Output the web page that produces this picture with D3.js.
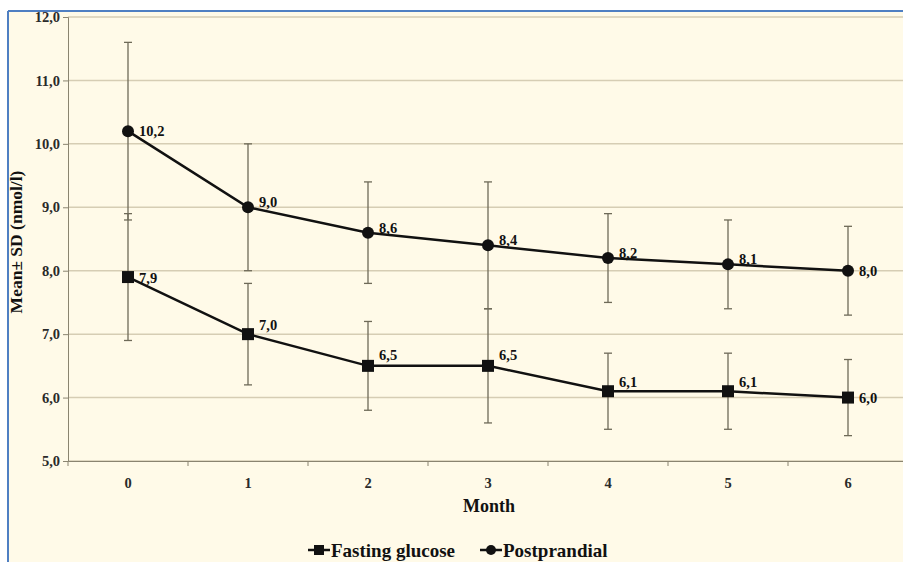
<!DOCTYPE html>
<html><head><meta charset="utf-8">
<script src="https://cdn.jsdelivr.net/npm/d3@7"></script>
<style>body{margin:0;background:#fff}svg{display:block}text{font-family:"Liberation Serif","Times New Roman",serif;font-weight:bold;fill:#111}</style>
</head><body><svg id="c" width="903" height="562"></svg>
<script>
const months = ["0","1","2","3","4","5","6"];
const fasting = [7.9, 7.0, 6.5, 6.5, 6.1, 6.1, 6.0];
const fastingSD = [1.0, 0.8, 0.7, 0.9, 0.6, 0.6, 0.6];
const postprandial = [10.2, 9.0, 8.6, 8.4, 8.2, 8.1, 8.0];
const postprandialSD = [1.4, 1.0, 0.8, 1.0, 0.7, 0.7, 0.7];
const yTicks = [5, 6, 7, 8, 9, 10, 11, 12];
const seriesNames = ["Fasting glucose", "Postprandial"];

const svg = d3.select("#c");
const fmt = v => d3.format(".1f")(v).replace(".", ",");
// frame
svg.append("rect").attr("x",8).attr("y",11).attr("width",900).attr("height",560).attr("fill","#fffae8");
svg.append("line").attr("x1",8).attr("x2",903).attr("y1",11).attr("y2",11).attr("stroke","#4f7fc2").attr("stroke-width",2);
svg.append("line").attr("x1",8).attr("x2",8).attr("y1",11).attr("y2",562).attr("stroke","#4f7fc2").attr("stroke-width",2);

const x = d3.scaleBand().domain(months).range([68, 908]);
const y = d3.scaleLinear().domain([5, 12]).range([461, 17]);
const cx = m => x(m) + x.bandwidth()/2;

// gridlines
svg.append("g").selectAll("line").data(yTicks).join("line")
  .attr("x1",68).attr("x2",903).attr("y1",d=>y(d)).attr("y2",d=>y(d))
  .attr("stroke","#d6cdb4").attr("stroke-width",1.5);

// axes
const yAxis = svg.append("g").attr("transform","translate(68,0)")
  .call(d3.axisLeft(y).tickValues(yTicks).tickFormat(fmt).tickSize(5).tickPadding(3));
yAxis.select(".domain").attr("stroke","#8a8470");
yAxis.selectAll(".tick line").attr("stroke","#8a8470");
yAxis.selectAll("text").attr("font-size",14.5).style("fill","#2a2a2a");

const xAxis = svg.append("g").attr("transform","translate(0,461)")
  .call(d3.axisBottom(x).tickSize(0).tickPadding(17));
xAxis.select(".domain").attr("stroke","#8a8470").attr("stroke-width",1.2);
xAxis.selectAll("text").attr("font-size",14.5).style("fill","#2a2a2a");
svg.append("g").selectAll("line").data(months.concat(["end"])).join("line")
  .attr("x1",(d,i)=>68+i*x.step()).attr("x2",(d,i)=>68+i*x.step())
  .attr("y1",461).attr("y2",466).attr("stroke","#8a8470");

// axis titles
svg.append("text").attr("x",489).attr("y",512).attr("text-anchor","middle").attr("font-size",18).text("Month");
svg.append("text").attr("transform","translate(22,242) rotate(-90)").attr("text-anchor","middle").attr("font-size",17.5).text("Mean± SD (nmol/l)");

function drawSeries(vals, sds, shape, labelDy) {
  const g = svg.append("g");
  // error bars
  vals.forEach((v,i)=>{
    const m = months[i], px = cx(m);
    g.append("line").attr("x1",px).attr("x2",px).attr("y1",y(v+sds[i])).attr("y2",y(v-sds[i])).attr("stroke","#6e6a58").attr("stroke-width",1.3);
    [v+sds[i], v-sds[i]].forEach(e=>g.append("line").attr("x1",px-4).attr("x2",px+4).attr("y1",y(e)).attr("y2",y(e)).attr("stroke","#6e6a58").attr("stroke-width",1.3));
  });
  g.append("path").datum(vals).attr("fill","none").attr("stroke","#111").attr("stroke-width",2.5)
    .attr("d", d3.line().x((d,i)=>cx(months[i])).y(d=>y(d)));
  vals.forEach((v,i)=>{
    const px = cx(months[i]), py = y(v);
    if (shape==="square") g.append("rect").attr("x",px-6).attr("y",py-6).attr("width",12).attr("height",12).attr("fill","#111");
    else g.append("circle").attr("cx",px).attr("cy",py).attr("r",6).attr("fill","#111");
    g.append("text").attr("x",px+11).attr("y",py+labelDy[i]).attr("font-size",14.5).text(fmt(v));
  });
}
drawSeries(postprandial, postprandialSD, "circle", [5,0,0,0,0,0,5]);
drawSeries(fasting, fastingSD, "square", [6,-4,-6,-6,-4,-4,5]);

// legend
const lg = svg.append("g");
const legendItems = [{name:seriesNames[0],shape:"square",x:308},{name:seriesNames[1],shape:"circle",x:480}];
legendItems.forEach(it=>{
  lg.append("line").attr("x1",it.x).attr("x2",it.x+22).attr("y1",550).attr("y2",550).attr("stroke","#111").attr("stroke-width",2.5);
  if (it.shape==="square") lg.append("rect").attr("x",it.x+6).attr("y",545).attr("width",10).attr("height",10).attr("fill","#111");
  else lg.append("circle").attr("cx",it.x+11).attr("cy",550).attr("r",5).attr("fill","#111");
  lg.append("text").attr("x",it.x+23).attr("y",557).attr("font-size",19).text(it.name);
});
</script></body></html>
